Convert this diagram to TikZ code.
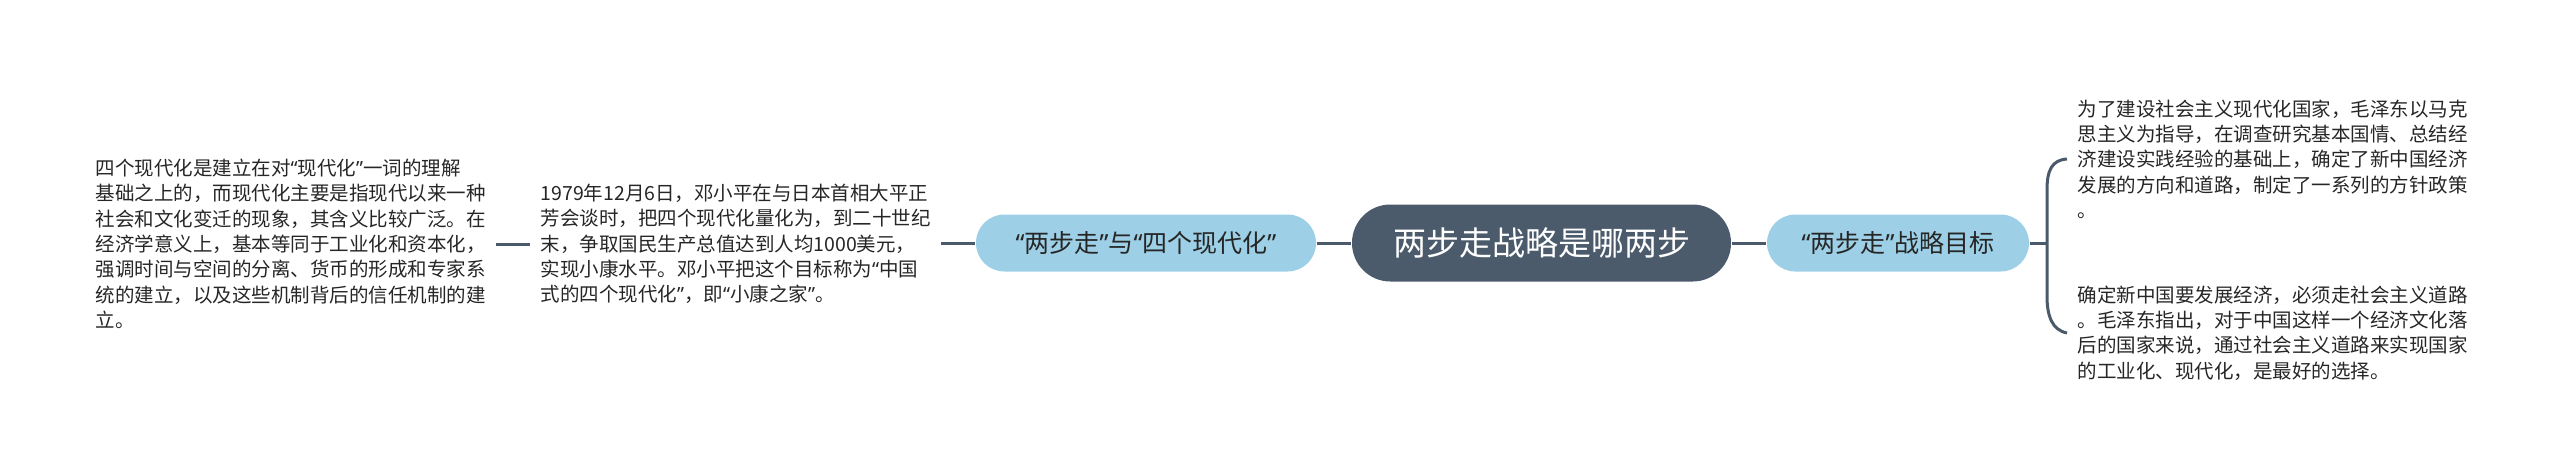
\documentclass[tikz,border=0pt]{standalone}
\usepackage{fontspec}
\setmainfont{Noto Sans CJK SC}
\newfontfamily\qfont{Noto Sans}
\newcommand{\myoq}{{\qfont “}}
\newcommand{\mycq}{{\qfont ”}}
\usetikzlibrary{calc}
\definecolor{linec}{HTML}{4A5A6A}
\definecolor{rootc}{HTML}{4B5B6B}
\definecolor{branchc}{HTML}{9DCFE6}
\definecolor{txtc}{HTML}{262626}
\tikzset{
  rootnode/.style={fill=rootc, draw=none, text=white, rounded corners=11.5pt,
    minimum width=113.7pt, minimum height=23.1pt, inner sep=0pt,
    font=\fontsize{9.9pt}{11pt}\selectfont},
  branchnode/.style={fill=branchc, draw=none, text=txtc, rounded corners=8.5pt,
    minimum height=17.1pt, inner sep=0pt,
    font=\fontsize{7.5pt}{9pt}\selectfont},
  leafnode/.style={anchor=west, align=left, text=txtc, inner xsep=3pt, inner ysep=0pt,
    font=\fontsize{5.85pt}{7.6pt}\selectfont},
  conn/.style={draw=linec, line width=0.9pt},
}
\begin{document}
\begin{tikzpicture}[x=0.3pt,y=-0.3pt]
\useasboundingbox (0,0) rectangle (2560,475);
\node[rootnode] (root) at (1541.5,243) {两步走战略是哪两步};
\node[branchnode, minimum width=102pt] (b1) at (1146,243) {\myoq 两步走\mycq 与\myoq 四个现代化\mycq};
\node[branchnode, minimum width=78.6pt] (b2) at (1898,243) {\myoq 两步走\mycq 战略目标};
\node[leafnode] (t2) at (530,244) {1979年12月6日，邓小平在与日本首相大平正\\芳会谈时，把四个现代化量化为，到二十世纪\\末，争取国民生产总值达到人均1000美元，\\实现小康水平。邓小平把这个目标称为\myoq 中国\\式的四个现代化\mycq ，即\myoq 小康之家\mycq 。};
\node[leafnode] (t1) at (85,244) {四个现代化是建立在对\myoq 现代化\mycq 一词的理解\\基础之上的，而现代化主要是指现代以来一种\\社会和文化变迁的现象，其含义比较广泛。在\\经济学意义上，基本等同于工业化和资本化，\\强调时间与空间的分离、货币的形成和专家系\\统的建立，以及这些机制背后的信任机制的建\\立。};
\node[leafnode] (t3) at (2067,159) {为了建设社会主义现代化国家，毛泽东以马克\\思主义为指导，在调查研究基本国情、总结经\\济建设实践经验的基础上，确定了新中国经济\\发展的方向和道路，制定了一系列的方针政策\\。};
\node[leafnode] (t4) at (2067,333) {确定新中国要发展经济，必须走社会主义道路\\。毛泽东指出，对于中国这样一个经济文化落\\后的国家来说，通过社会主义道路来实现国家\\的工业化、现代化，是最好的选择。};
\coordinate (br) at (2047,243);
\draw[conn] (b1.east) -- (root.west);
\draw[conn] (root.east) -- (b2.west);
\draw[conn] (t2.east |- b1.west) -- (b1.west);
\draw[conn] (t1.east |- t2.west) -- (t2.west |- t1.east);
\draw[conn] (b2.east) -- (br);
\draw[conn] (t3.west) .. controls (2052,160) and (2047,170) .. (2047,190) -- (2047,296) .. controls (2047,316) and (2052,330) .. (t4.west);
\end{tikzpicture}
\end{document}
